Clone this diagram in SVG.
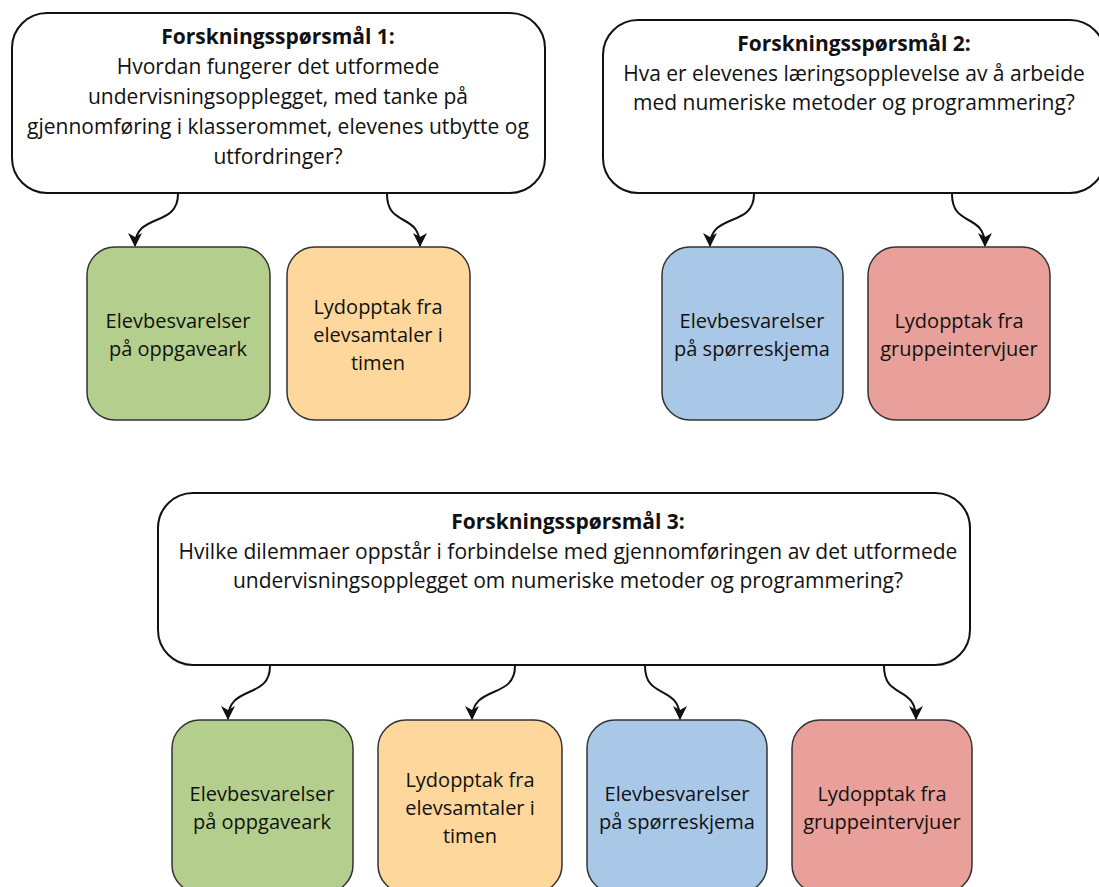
<svg xmlns="http://www.w3.org/2000/svg" width="1099" height="887" viewBox="0 0 1099 887">
<defs>
<style>
.q{fill:#fff;stroke:#111;stroke-width:2}
.s{stroke:#333;stroke-width:1.5}
.g{fill:#b4cf8d}
.o{fill:#fdd79c}
.b{fill:#a9c8e7}
.r{fill:#e9a09a}
text{font-family:"Open Sans","Noto Sans","Liberation Sans",sans-serif;font-size:21px;fill:#111;text-anchor:middle}
.n text{font-size:20px}
.t{font-weight:bold}
.c path{fill:none;stroke:#111;stroke-width:2;marker-end:url(#ah)}
</style>
<marker id="ah" markerUnits="userSpaceOnUse" markerWidth="14" markerHeight="14" viewBox="0 0 14 14" refX="13" refY="7" orient="auto">
<path d="M0,0 L14,7 L0,14 L4,7 Z" fill="#111"/>
</marker>
</defs>
<g id="rq1">
<rect class="q" x="12" y="13" width="533" height="180" rx="35"/>
<text class="t" x="278" y="44">Forskningsspørsmål 1:</text>
<text x="278" y="74">Hvordan fungerer det utformede</text>
<text x="278" y="104">undervisningsopplegget, med tanke på</text>
<text x="278" y="134">gjennomføring i klasserommet, elevenes utbytte og</text>
<text x="278" y="164">utfordringer?</text>
</g>
<g id="rq2">
<rect class="q" x="603" y="20" width="502" height="173" rx="35"/>
<text class="t" x="854" y="51">Forskningsspørsmål 2:</text>
<text x="854" y="81">Hva er elevenes læringsopplevelse av å arbeide</text>
<text x="854" y="110">med numeriske metoder og programmering?</text>
</g>
<g id="rq3">
<rect class="q" x="158" y="493" width="812" height="172" rx="35"/>
<text class="t" x="568" y="529">Forskningsspørsmål 3:</text>
<text x="568" y="559">Hvilke dilemmaer oppstår i forbindelse med gjennomføringen av det utformede</text>
<text x="568" y="588">undervisningsopplegget om numeriske metoder og programmering?</text>
</g>
<g id="n1a" class="n">
<rect class="g s" x="87" y="247" width="183" height="173" rx="28"/>
<text x="178" y="328">Elevbesvarelser</text>
<text x="178" y="356">på oppgaveark</text>
</g>
<g id="n1b" class="n">
<rect class="o s" x="287" y="247" width="183" height="173" rx="28"/>
<text x="378" y="314">Lydopptak fra</text>
<text x="378" y="342">elevsamtaler i</text>
<text x="378" y="370">timen</text>
</g>
<g id="n2a" class="n">
<rect class="b s" x="662" y="247" width="181" height="173" rx="28"/>
<text x="752" y="328">Elevbesvarelser</text>
<text x="752" y="356">på spørreskjema</text>
</g>
<g id="n2b" class="n">
<rect class="r s" x="868" y="247" width="182" height="173" rx="28"/>
<text x="959" y="328">Lydopptak fra</text>
<text x="959" y="356">gruppeintervjuer</text>
</g>
<g id="n3a" class="n">
<rect class="g s" x="172" y="720" width="181" height="173" rx="28"/>
<text x="262" y="801">Elevbesvarelser</text>
<text x="262" y="829">på oppgaveark</text>
</g>
<g id="n3b" class="n">
<rect class="o s" x="378" y="720" width="184" height="173" rx="28"/>
<text x="470" y="787">Lydopptak fra</text>
<text x="470" y="815">elevsamtaler i</text>
<text x="470" y="843">timen</text>
</g>
<g id="n3c" class="n">
<rect class="b s" x="587" y="720" width="180" height="173" rx="28"/>
<text x="677" y="801">Elevbesvarelser</text>
<text x="677" y="829">på spørreskjema</text>
</g>
<g id="n3d" class="n">
<rect class="r s" x="792" y="720" width="180" height="173" rx="28"/>
<text x="882" y="801">Lydopptak fra</text>
<text x="882" y="829">gruppeintervjuer</text>
</g>
<g id="connectors" class="c">
<path d="M178,194 C178,228 135,212 135,246"/>
<path d="M387,194 C387,228 420,212 420,246"/>
<path d="M754,194 C754,228 710,212 710,246"/>
<path d="M952,194 C952,228 985,212 985,246"/>
<path d="M270,666 C270,700 228,684 228,719"/>
<path d="M515,666 C515,700 472,684 472,719"/>
<path d="M645,666 C645,700 680,684 680,719"/>
<path d="M884,666 C884,700 916,684 916,719"/>
</g>
</svg>
